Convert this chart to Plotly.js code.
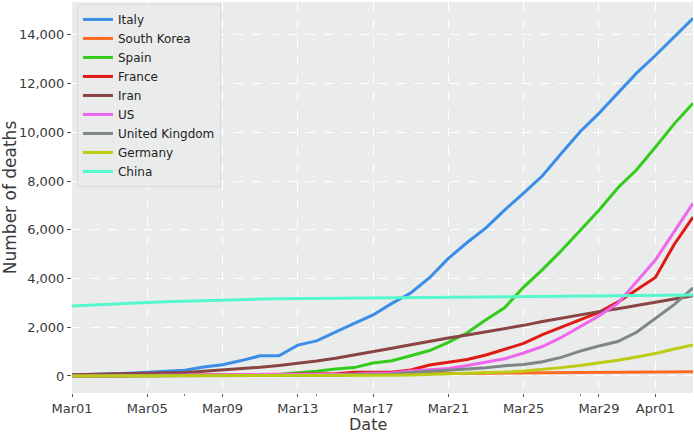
<!DOCTYPE html>
<html>
<head>
<meta charset="utf-8">
<script src="https://cdn.plot.ly/plotly-3.0.1.min.js"></script>
<style>
  html, body { margin: 0; padding: 0; background: #fff; }
  #chart { width: 694px; height: 433px; }
</style>
</head>
<body>
<div id="chart"></div>
<script>
var dates = ["2020-03-01","2020-03-02","2020-03-03","2020-03-04","2020-03-05","2020-03-06","2020-03-07",
  "2020-03-08","2020-03-09","2020-03-10","2020-03-11","2020-03-12","2020-03-13","2020-03-14",
  "2020-03-15","2020-03-16","2020-03-17","2020-03-18","2020-03-19","2020-03-20","2020-03-21",
  "2020-03-22","2020-03-23","2020-03-24","2020-03-25","2020-03-26","2020-03-27","2020-03-28",
  "2020-03-29","2020-03-30","2020-03-31","2020-04-01","2020-04-02","2020-04-03"];

var italy = [34,52,79,107,148,197,233,366,463,631,827,827,1266,1441,1809,2158,2503,2978,3405,4032,
  4825,5476,6077,6820,7503,8215,9134,10023,10779,11591,12428,13155,13915,14681];
var southKorea = [17,28,28,35,35,42,44,50,53,54,60,66,66,72,75,75,81,84,91,94,
  102,104,111,120,126,131,139,144,152,158,162,165,169,174];
var spain = [0,0,1,2,3,5,10,17,28,35,54,55,133,195,289,342,533,623,830,1043,
  1375,1772,2311,2808,3647,4365,5138,5982,6803,7716,8464,9387,10348,11198];
var france = [2,3,4,4,6,9,11,19,19,33,48,48,79,91,91,149,149,149,244,451,
  563,676,862,1102,1333,1698,1997,2317,2611,3030,3532,4043,5398,6520];
var iran = [54,66,77,92,107,124,145,194,237,291,354,429,514,611,724,853,988,1135,1284,1433,
  1556,1685,1812,1934,2077,2234,2378,2517,2640,2757,2898,3036,3160,3294];
var us = [1,6,7,11,12,14,17,21,22,28,36,40,47,54,63,85,108,118,200,244,
  307,427,552,706,942,1209,1581,2026,2467,2978,3873,4757,5926,7087];
var uk = [0,0,0,0,1,2,2,3,4,6,8,8,8,21,21,56,56,72,138,178,
  234,282,336,423,466,580,761,1021,1231,1411,1793,2357,2926,3611];
var germany = [0,0,0,0,0,0,0,0,2,2,3,3,7,9,11,17,24,28,44,67,
  84,94,123,157,206,267,342,433,533,645,775,920,1107,1275];
var china = [2870,2912,2945,2981,3013,3042,3070,3097,3119,3136,3158,3169,3176,3189,3199,3213,3226,3237,3245,3249,
  3253,3259,3274,3274,3281,3285,3291,3296,3299,3304,3308,3309,3316,3322];

var countries = ["Italy","South Korea","Spain","France","Iran","US","United Kingdom","Germany","China"];
var series = [italy, southKorea, spain, france, iran, us, uk, germany, china];
var colors = ["#3a8ee8","#ff6a22","#33cc1a","#e01a14","#8a4444","#ee66ee","#7f8686","#bccc14","#55f8cc"];

var tickDates = ["2020-03-01","2020-03-05","2020-03-09","2020-03-13","2020-03-17","2020-03-21","2020-03-25","2020-03-29","2020-04-01"];
var tickText = ["Mar01","Mar05","Mar09","Mar13","Mar17","Mar21","Mar25","Mar29","Apr01"];
var minorDates = ["2020-03-07","2020-03-14","2020-03-28"];
var yTicks = [0,2000,4000,6000,8000,10000,12000,14000];

var data = countries.map(function(name, i) {
  return {
    x: dates,
    y: series[i],
    name: name,
    type: "scatter",
    mode: "lines",
    line: { color: colors[i], width: 3 }
  };
});

var layout = {
  width: 694,
  height: 433,
  margin: { l: 72, r: 1, t: 2, b: 40 },
  paper_bgcolor: "#ffffff",
  plot_bgcolor: "#eaecec",
  font: { family: "DejaVu Sans", size: 13, color: "#3a3a3a" },
  showlegend: true,
  legend: {
    x: 0.008, y: 0.995, xanchor: "left", yanchor: "top",
    bgcolor: "rgba(234,236,236,0.85)",
    bordercolor: "#d8dcdc", borderwidth: 1,
    font: { family: "DejaVu Sans", size: 12, color: "#222222" },
    tracegroupgap: 0
  },
  xaxis: {
    type: "date",
    range: ["2020-03-01", "2020-04-03"],
    tickmode: "array",
    tickvals: tickDates,
    ticktext: tickText,
    ticks: "outside", ticklen: 3, tickcolor: "#555555",
    showgrid: true, gridcolor: "#ffffff", griddash: "dash", gridwidth: 1,
    zeroline: false, showline: false,
    minor: { tickmode: "array", tickvals: minorDates, ticks: "outside", ticklen: 2, tickcolor: "#777777", showgrid: false }
  },
  yaxis: {
    range: [-700, 15350],
    tickmode: "array",
    tickvals: yTicks,
    tickformat: ",d",
    ticks: "outside", ticklen: 4, tickcolor: "#555555",
    showgrid: true, gridcolor: "#ffffff", griddash: "dash", gridwidth: 1,
    zeroline: false, showline: false,
    title: { text: "Number of deaths", font: { size: 17, color: "#3a3a3a" }, standoff: 6 }
  },
  // x title as an annotation so it sits just under the tick labels
  annotations: [{
    text: "Date", xref: "paper", yref: "paper", x: 0.476, y: 0,
    xanchor: "center", yanchor: "middle", yshift: -31, showarrow: false,
    font: { size: 16, color: "#3a3a3a" }
  }]
};

Plotly.newPlot("chart", data, layout, { displayModeBar: false, staticPlot: true });
</script>
</body>
</html>
